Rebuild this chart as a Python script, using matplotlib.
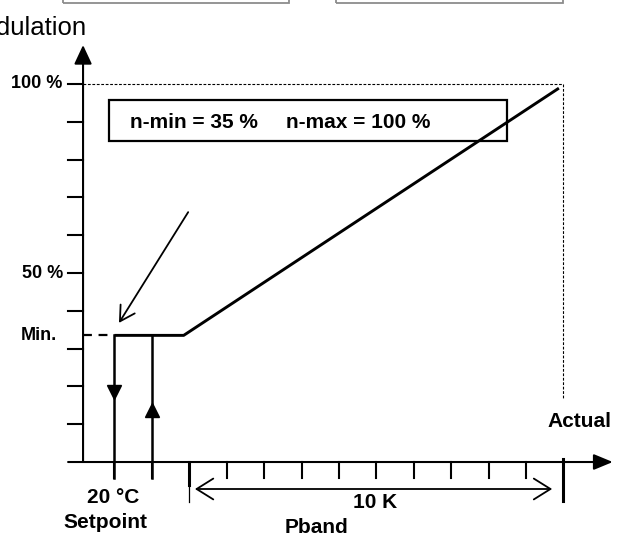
import matplotlib
matplotlib.use("Agg")
import matplotlib.pyplot as plt
from matplotlib.patches import Rectangle

plt.rcParams['font.family'] = ['Liberation Sans', 'DejaVu Sans']

# temperature axis (deg C) and modulation (%)
setpoint = 20
switch_on = 21
pband_start = 22
pband_end = 32
n_min = 33.5            # level drawn for "Min." (label says 35 %)
ramp_x = [setpoint, 21.85, 31.88]
ramp_y = [n_min, n_min, 98.9]
x_ticks = [20, 21, 23, 24, 25, 26, 27, 28, 29, 30, 31]
y_ticks = [10, 20, 30, 40, 50, 60, 70, 80, 90, 100]
y_labels = {100: "100 %", 50: "50 %", n_min: "Min."}
box_text = ["n-min = 35 %", "n-max = 100 %"]

axis_x = 19.16          # where the vertical axis sits

fig = plt.figure(figsize=(6.24, 5.33), dpi=100)
ax = fig.add_axes([0, 0, 1, 1])
ax.set_xlim(16.94, 33.62)
ax.set_ylim(-18.78, 122.22)
ax.axis("off")

small = dict(fontsize=13, fontweight="bold", color="black")
bold = dict(fontsize=15, fontweight="bold", color="black")

# cropped buttons at the top
for x0, x1 in [(18.62, 24.67), (25.92, 31.99)]:
    ax.add_patch(Rectangle((x0, 121.4), x1 - x0, 5, fill=False,
                           edgecolor="#8c8c8c", lw=1.3))

ax.text(19.26, 112.9, "Modulation", ha="right", va="baseline", fontsize=18.5)

# axes with arrows
ax.annotate("", xy=(axis_x, 110.3), xytext=(axis_x, 0),
            arrowprops=dict(arrowstyle="-|>,head_length=0.58,head_width=0.27",
                            mutation_scale=20, lw=1.5, color="black",
                            shrinkA=0, shrinkB=0))
ax.annotate("", xy=(33.32, 0), xytext=(18.76, 0),
            arrowprops=dict(arrowstyle="-|>,head_length=0.58,head_width=0.24",
                            mutation_scale=20, lw=1.5, color="black",
                            shrinkA=0, shrinkB=0))

# y ticks
for t in y_ticks:
    ax.plot([18.76, axis_x], [t, t], color="black", lw=1.5)
for v, s in y_labels.items():
    xr = 18.46 if s == "Min." else 18.62
    ax.text(xr, v, s, ha="right", va="center", **small)

# x ticks
for t in x_ticks:
    ax.plot([t, t], [0, -4.2], color="black", lw=1.5)
ax.plot([pband_start, pband_start], [0, -6], color="black", lw=2.2)
ax.plot([pband_start, pband_start], [-6, -10.6], color="black", lw=0.9)
ax.plot([pband_end, pband_end], [0.8, -10.4], color="black", lw=2.2)

# 100 % reference lines
ax.plot([axis_x, pband_end], [100, 100], color="black", lw=0.8,
        linestyle=(0, (2.5, 1.5)))
ax.plot([pband_end, pband_end], [100, 16.9], color="black", lw=0.8,
        linestyle=(0, (2.5, 1.5)))

# min level dashed up to setpoint
ax.plot([axis_x, setpoint], [n_min, n_min], color="black", lw=1.6,
        linestyle=(0, (4, 3)))

# characteristic
ax.plot(ramp_x, ramp_y, color="black", lw=2.1, solid_capstyle="butt")

# hysteresis lines
ax.plot([setpoint, setpoint], [n_min, -4.2], color="black", lw=1.8)
ax.plot([switch_on, switch_on], [n_min, -4.2], color="black", lw=1.8)
ax.plot([setpoint], [18.6], marker="v", ms=10, color="black")
ax.plot([switch_on], [13.8], marker="^", ms=10, color="black")

# pointer arrow
ax.annotate("", xy=(20.12, 36.8), xytext=(21.97, 66.1),
            arrowprops=dict(arrowstyle="->,head_length=0.42,head_width=0.24",
                            mutation_scale=25, lw=1.3, color="black",
                            shrinkA=0, shrinkB=0))

# settings box
ax.add_patch(Rectangle((19.85, 85.0), 30.49 - 19.85, 10.8, fill=False,
                       edgecolor="black", lw=1.6))
ax.text(20.41, 89.9, box_text[0], ha="left", va="center", **bold)
ax.text(24.58, 89.9, box_text[1], ha="left", va="center", **bold)

# Pband span
ax.annotate("", xy=(22.15, -7.14), xytext=(31.70, -7.14),
            arrowprops=dict(arrowstyle="<->,head_length=0.4,head_width=0.25",
                            mutation_scale=30, lw=1.3, color="black",
                            shrinkA=0, shrinkB=0))

ax.text(33.28, 10.6, "Actual", ha="right", va="center", **bold)
ax.text(19.96, -9.5, "20 °C", ha="center", va="center", **bold)
ax.text(19.75, -16.1, "Setpoint", ha="center", va="center", **bold)
ax.text(26.97, -10.6, "10 K", ha="center", va="center", **bold)
ax.text(25.41, -17.4, "Pband", ha="center", va="center", **bold)

fig.savefig("out.png", dpi=100)
plt.close(fig)
